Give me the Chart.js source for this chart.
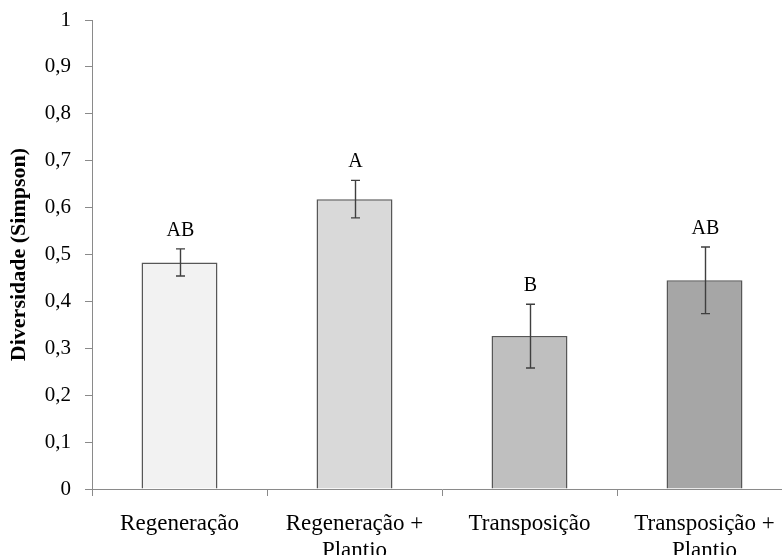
<!DOCTYPE html>
<html>
<head>
<meta charset="utf-8">
<script src="https://cdn.jsdelivr.net/npm/chart.js@4/dist/chart.umd.min.js"></script>
<style>
  html, body { margin: 0; padding: 0; background: #fff; overflow: hidden; width: 782px; height: 555px; }
  canvas { display: block; }
</style>
</head>
<body>
<canvas id="chart" width="792" height="555"></canvas>
<script>
// Simpson diversity per restoration treatment (mean ± error), with group letters
const categories = [['Regeneração'], ['Regeneração +', 'Plantio'], ['Transposição'], ['Transposição +', 'Plantio']];
const meanDiversity = [0.483, 0.618, 0.326, 0.445];
const errorMargin = [0.029, 0.040, 0.068, 0.071];
const groupLetters = ['AB', 'A', 'B', 'AB'];
const barColors = ['#f2f2f2', '#d9d9d9', '#bfbfbf', '#a6a6a6'];
const yTickLabels = ['0', '0,1', '0,2', '0,3', '0,4', '0,5', '0,6', '0,7', '0,8', '0,9', '1'];

const SERIF = "'Liberation Serif', 'Times New Roman', serif";
const AXIS_GREY = '#8a8a8a';

// Error bars and significance letters drawn on top of the bars
const errorBarPlugin = {
  id: 'errorBars',
  afterDatasetsDraw(chart) {
    const ctx = chart.ctx;
    const yScale = chart.scales.y;
    const meta = chart.getDatasetMeta(0);
    ctx.save();
    meta.data.forEach((bar, i) => {
      const x = Math.round(bar.x) + 0.5;
      const yHi = yScale.getPixelForValue(meanDiversity[i] + errorMargin[i]);
      const yLo = yScale.getPixelForValue(meanDiversity[i] - errorMargin[i]);
      ctx.strokeStyle = '#3f3f3f';
      ctx.lineWidth = 1.4;
      ctx.beginPath();
      ctx.moveTo(x, yHi); ctx.lineTo(x, yLo);
      ctx.moveTo(x - 4.5, yHi); ctx.lineTo(x + 4.5, yHi);
      ctx.moveTo(x - 4.5, yLo); ctx.lineTo(x + 4.5, yLo);
      ctx.stroke();

      ctx.fillStyle = '#000';
      ctx.font = '20px ' + SERIF;
      ctx.textAlign = 'center';
      ctx.textBaseline = 'alphabetic';
      ctx.fillText(groupLetters[i], x, yHi - 13);
    });
    ctx.restore();
  }
};

new Chart(document.getElementById('chart'), {
  type: 'bar',
  data: {
    labels: categories,
    datasets: [{
      data: meanDiversity,
      backgroundColor: barColors,
      borderColor: '#575757',
      borderWidth: 1.5,
      barPercentage: 1,
      categoryPercentage: 0.434
    }]
  },
  options: {
    responsive: false,
    animation: false,
    devicePixelRatio: 1,
    layout: { padding: { top: 20, left: 0, right: 0, bottom: 0 } },
    plugins: {
      legend: { display: false },
      tooltip: { enabled: false }
    },
    scales: {
      x: {
        afterFit(scale) { scale.height = 66; },
        border: { color: AXIS_GREY, width: 1 },
        grid: { offset: true, drawOnChartArea: false, drawTicks: true, tickLength: 7, color: AXIS_GREY },
        ticks: {
          color: '#000',
          padding: 14,
          maxRotation: 0,
          autoSkip: false,
          font: { family: SERIF, size: 23, lineHeight: 1.2 }
        }
      },
      y: {
        min: 0,
        max: 1,
        afterFit(scale) {
          scale.width = 92;
          scale.paddingTop = 10;
          scale.paddingBottom = 0;
        },
        border: { color: AXIS_GREY, width: 1 },
        grid: { drawOnChartArea: false, drawTicks: true, tickLength: 7, color: AXIS_GREY },
        ticks: {
          stepSize: 0.1,
          color: '#000',
          padding: 14,
          font: { family: SERIF, size: 21 },
          callback: (v, i) => yTickLabels[i]
        },
        title: {
          display: true,
          text: 'Diversidade (Simpson)',
          color: '#000',
          padding: { top: 6, bottom: 0 },
          font: { family: SERIF, size: 22, weight: 'bold', lineHeight: 1.2 }
        }
      }
    }
  },
  plugins: [errorBarPlugin]
});
</script>
</body>
</html>
